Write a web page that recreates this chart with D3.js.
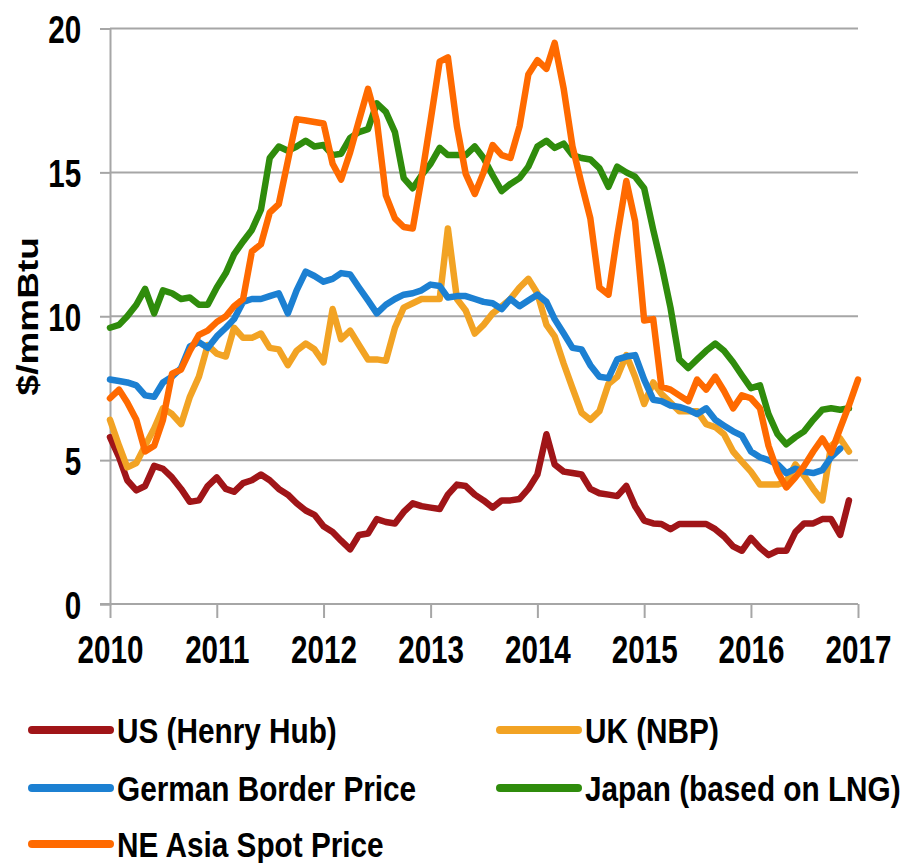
<!DOCTYPE html>
<html>
<head>
<meta charset="utf-8">
<script src="https://cdn.jsdelivr.net/npm/d3@7"></script>
<style>
  body { margin: 0; background: #fff; }
  text { font-family: "Liberation Sans", Arial, sans-serif; font-weight: bold; fill: #000; }
</style>
</head>
<body>
<div id="chart"></div>
<script>
// monthly prices, Jan 2010 onwards ($/mmBtu)
const startMonth = new Date(2010, 0, 1);
const years = [2010, 2011, 2012, 2013, 2014, 2015, 2016, 2017];
const yTicks = [0, 5, 10, 15, 20];

const henryHub = [5.8, 5.1, 4.3, 3.95, 4.1, 4.8, 4.7, 4.4, 4.0, 3.55, 3.6, 4.1,
  4.4, 4.0, 3.9, 4.2, 4.3, 4.5, 4.3, 4.0, 3.8, 3.5, 3.25, 3.1,
  2.7, 2.5, 2.2, 1.9, 2.4, 2.45, 2.95, 2.85, 2.8, 3.2, 3.5, 3.4,
  3.35, 3.3, 3.8, 4.15, 4.1, 3.8, 3.6, 3.35, 3.6, 3.6, 3.65, 4.0,
  4.5, 5.9, 4.85, 4.6, 4.55, 4.5, 4.0, 3.85, 3.8, 3.75, 4.1, 3.4,
  2.9, 2.8, 2.78, 2.6, 2.78, 2.78, 2.78, 2.78, 2.6, 2.35, 2.0, 1.85,
  2.3, 1.95, 1.7, 1.85, 1.85, 2.5, 2.8, 2.8, 2.95, 2.95, 2.4, 3.6];

const ukNbp = [6.4, 5.5, 4.75, 4.9, 5.5, 6.1, 6.8, 6.6, 6.25, 7.2, 7.9, 9.0,
  8.7, 8.6, 9.6, 9.25, 9.25, 9.4, 8.9, 8.85, 8.3, 8.8, 9.05, 8.85,
  8.4, 10.25, 9.2, 9.5, 9.0, 8.5, 8.5, 8.45, 9.6, 10.3, 10.45, 10.6,
  10.6, 10.6, 13.05, 10.6, 10.2, 9.4, 9.7, 10.1, 10.35, 10.6, 11.0, 11.3,
  10.8, 9.7, 9.3, 8.35, 7.5, 6.65, 6.4, 6.7, 7.65, 7.9, 8.65, 7.9,
  6.95, 7.7, 7.3, 7.0, 6.7, 6.7, 6.7, 6.25, 6.15, 5.9, 5.3, 4.95,
  4.6, 4.15, 4.15, 4.15, 4.25, 4.85, 4.45, 4.0, 3.6, 5.5, 5.75, 5.3];

const germanBorder = [7.8, 7.75, 7.7, 7.6, 7.25, 7.2, 7.7, 7.9, 8.2, 8.95, 9.1, 8.9,
  9.3, 9.6, 9.9, 10.5, 10.6, 10.6, 10.7, 10.8, 10.1, 10.9, 11.55, 11.4,
  11.2, 11.3, 11.5, 11.45, 11.0, 10.55, 10.1, 10.4, 10.6, 10.75, 10.8, 10.9,
  11.1, 11.05, 10.65, 10.7, 10.7, 10.6, 10.5, 10.45, 10.25, 10.6, 10.35, 10.55,
  10.75, 10.5, 9.9, 9.4, 8.9, 8.85, 8.3, 7.9, 7.85, 8.5, 8.6, 8.65,
  7.8, 7.1, 7.05, 6.9, 6.85, 6.75, 6.6, 6.8, 6.4, 6.2, 6.0, 5.85,
  5.3, 5.1, 5.0, 4.85, 4.55, 4.7, 4.6, 4.55, 4.65, 5.1, 5.4];

const japanLng = [9.6, 9.7, 10.0, 10.4, 10.95, 10.1, 10.9, 10.8, 10.6, 10.65, 10.4, 10.4,
  11.0, 11.5, 12.15, 12.6, 13.0, 13.7, 15.5, 15.9, 15.75, 15.9, 16.1, 15.9,
  15.95, 15.6, 15.65, 16.2, 16.4, 16.5, 17.4, 17.1, 16.4, 14.8, 14.45, 14.9,
  15.3, 15.85, 15.6, 15.6, 15.6, 15.9, 15.5, 14.9, 14.35, 14.6, 14.8, 15.2,
  15.9, 16.1, 15.85, 16.0, 15.6, 15.5, 15.45, 15.15, 14.5, 15.2, 15.0, 14.85,
  14.45, 13.0, 11.8, 10.3, 8.5, 8.2, 8.5, 8.8, 9.05, 8.8, 8.4, 7.95,
  7.5, 7.6, 6.6, 5.9, 5.55, 5.8, 6.0, 6.4, 6.75, 6.8, 6.75, 6.8];

const neAsiaSpot = [7.15, 7.45, 7.0, 6.4, 5.3, 5.5, 6.4, 8.0, 8.15, 8.8, 9.35, 9.5,
  9.8, 10.0, 10.35, 10.6, 12.25, 12.5, 13.6, 13.9, 15.4, 16.85, 16.8, 16.75,
  16.7, 15.3, 14.75, 15.7, 16.8, 17.9, 16.8, 14.2, 13.4, 13.1, 13.05, 14.8,
  16.8, 18.85, 19.0, 16.6, 14.95, 14.25, 15.0, 15.95, 15.6, 15.5, 16.6, 18.4,
  18.9, 18.6, 19.5, 17.9, 15.9, 14.6, 13.4, 11.0, 10.75, 12.8, 14.7, 13.3,
  9.85, 9.9, 7.55, 7.45, 7.25, 7.05, 7.8, 7.45, 7.9, 7.4, 6.8, 7.25,
  7.15, 6.8, 5.5, 4.6, 4.05, 4.4, 4.8, 5.3, 5.75, 5.25, 6.1, 6.9, 7.8];

const seriesNames = ["US (Henry Hub)", "UK (NBP)", "German Border Price",
  "Japan (based on LNG)", "NE Asia Spot Price"];
const seriesValues = [henryHub, ukNbp, germanBorder, japanLng, neAsiaSpot];
const seriesColors = ["#A01518", "#F2A324", "#1C80D2", "#2F8C0C", "#FF6A00"];

const width = 907, height = 863;
const margin = { top: 28.5, right: 49, bottom: 259, left: 110 };
const squeeze = 0.76;   // the original's text is horizontally condensed

const svg = d3.select("#chart").append("svg")
  .attr("width", width)
  .attr("height", height);

const x = d3.scaleTime()
  .domain([new Date(years[0], 0, 1), new Date(years[years.length - 1], 0, 1)])
  .range([margin.left, width - margin.right]);

const y = d3.scaleLinear()
  .domain([0, 20])
  .range([height - margin.bottom, margin.top]);

// horizontal gridlines
svg.append("g")
  .selectAll("line")
  .data(yTicks.filter(d => d > 0))
  .join("line")
  .attr("x1", margin.left)
  .attr("x2", width - margin.right)
  .attr("y1", d => y(d))
  .attr("y2", d => y(d))
  .attr("stroke", "#a6a6a6")
  .attr("stroke-width", 2);

// y axis
const yAxis = svg.append("g")
  .attr("transform", `translate(${margin.left},0)`)
  .call(d3.axisLeft(y).tickValues(yTicks).tickSize(10).tickPadding(0));
yAxis.select(".domain").attr("stroke", "#a6a6a6").attr("stroke-width", 2);
yAxis.selectAll(".tick line").attr("stroke", "#a6a6a6").attr("stroke-width", 2);
yAxis.selectAll(".tick text")
  .attr("x", -38)
  .attr("dy", "0.36em")
  .attr("transform", `scale(${squeeze},1)`)
  .style("font-size", "39px")
  .style("font-family", "'Liberation Sans', Arial, sans-serif")
  .style("font-weight", "bold");

// x axis
const xAxis = svg.append("g")
  .attr("transform", `translate(0,${y(0)})`)
  .call(d3.axisBottom(x)
    .tickValues(years.map(yr => new Date(yr, 0, 1)))
    .tickFormat(d3.timeFormat("%Y"))
    .tickSize(14)
    .tickSizeOuter(0));
xAxis.select(".domain").attr("d", `M${margin.left - 10},0H${width - margin.right}`)
  .attr("stroke", "#a6a6a6").attr("stroke-width", 2);
xAxis.selectAll(".tick line").attr("stroke", "#a6a6a6").attr("stroke-width", 2);
xAxis.selectAll(".tick text")
  .attr("y", 59)
  .attr("dy", 0)
  .attr("transform", `scale(${squeeze},1)`)
  .style("font-size", "39px")
  .style("font-family", "'Liberation Sans', Arial, sans-serif")
  .style("font-weight", "bold");

// y axis title
svg.append("text")
  .attr("transform", `translate(38,${(y(0) + y(20)) / 2}) rotate(-90) scale(1,0.8)`)
  .attr("text-anchor", "middle")
  .style("font-size", "37px")
  .text("$/mmBtu");

// lines
const line = d3.line()
  .x((d, i) => x(d3.timeMonth.offset(startMonth, i)))
  .y(d => y(d));

svg.append("g")
  .selectAll("path")
  .data(seriesValues)
  .join("path")
  .attr("d", d => line(d))
  .attr("fill", "none")
  .attr("stroke", (d, i) => seriesColors[i])
  .attr("stroke-width", 6.5)
  .attr("stroke-linejoin", "round")
  .attr("stroke-linecap", "round");

// legend
const legendCols = [32, 500];
const legendRows = [730, 788, 844];
const legend = svg.append("g")
  .selectAll("g")
  .data(seriesNames)
  .join("g")
  .attr("transform", (d, i) => `translate(${legendCols[i % 2]},${legendRows[Math.floor(i / 2)]})`);

legend.append("line")
  .attr("x1", 0)
  .attr("x2", 78)
  .attr("stroke", (d, i) => seriesColors[i])
  .attr("stroke-width", 8)
  .attr("stroke-linecap", "round");

legend.append("text")
  .attr("transform", `translate(85,13) scale(0.85,1)`)
  .style("font-size", "35px")
  .text(d => d);
</script>
</body>
</html>
